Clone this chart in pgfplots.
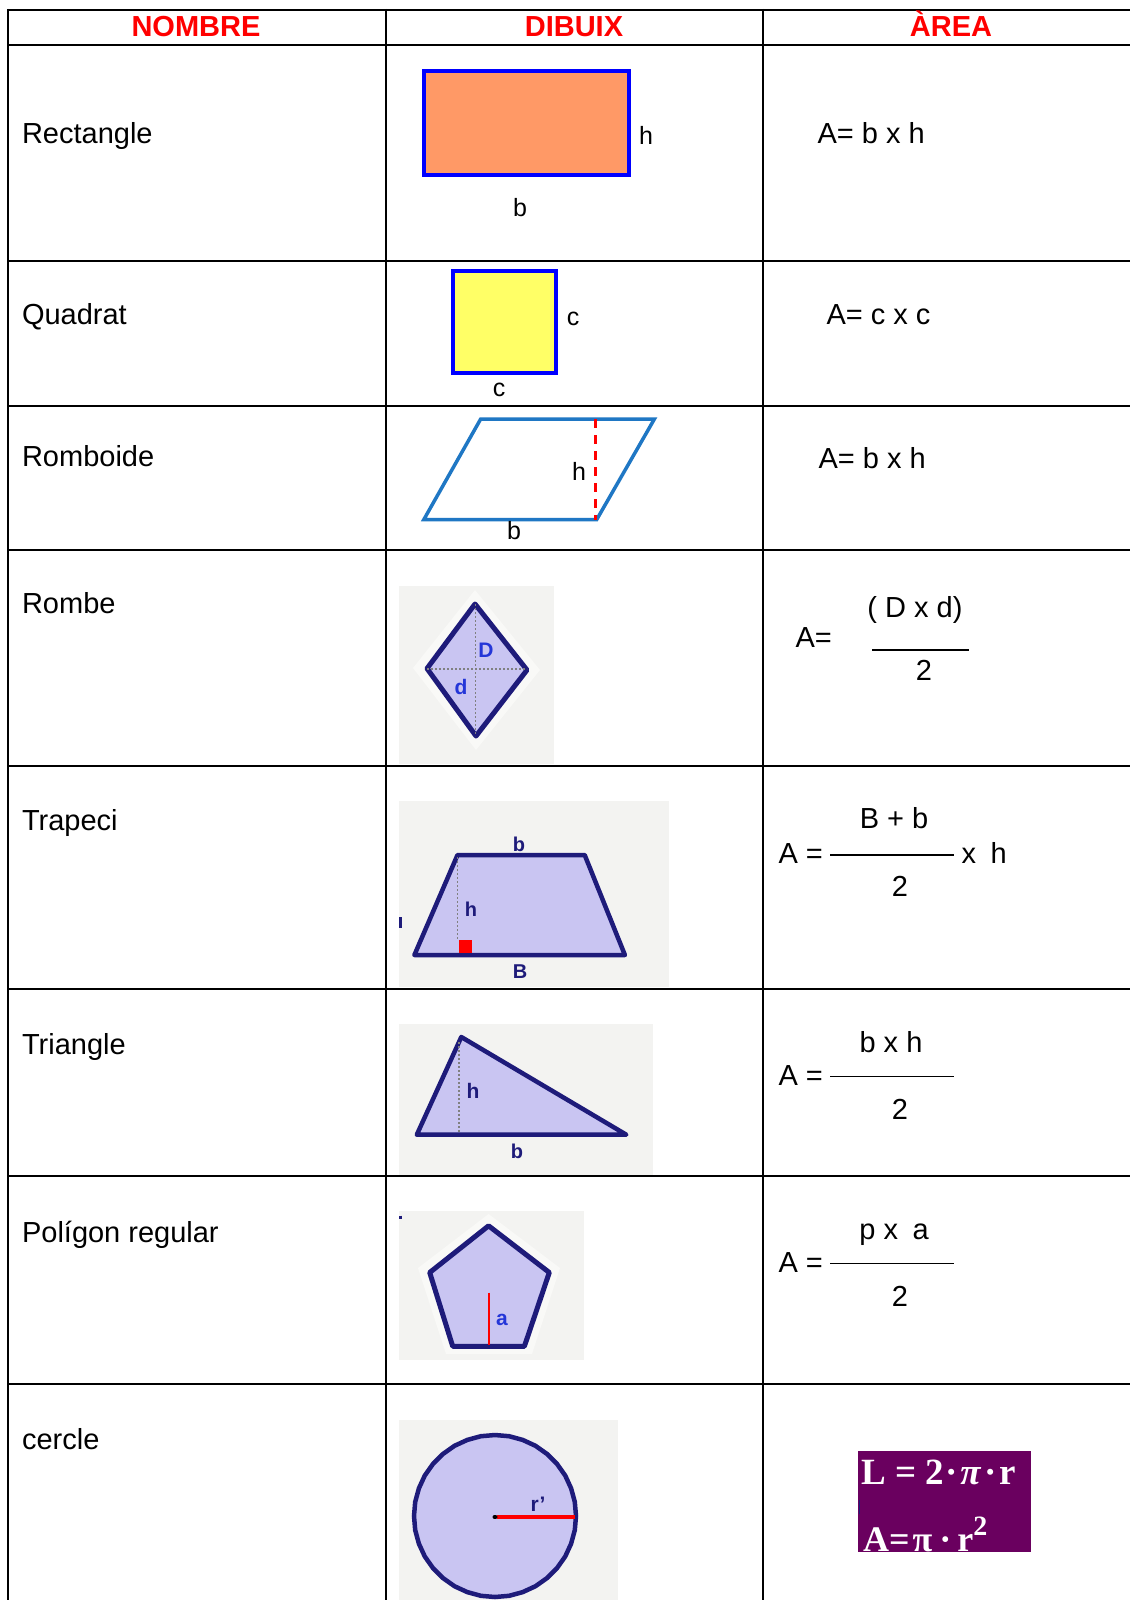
\documentclass[border=0pt]{standalone}
\usepackage{fontspec}
\setmainfont{Liberation Sans}
\newfontfamily\serifb{Liberation Serif}
\usepackage{pgfplots}
\pgfplotsset{compat=1.18}

\definecolor{hdrred}{HTML}{FF0000}
\definecolor{rectfill}{HTML}{FF9966}
\definecolor{sqfill}{HTML}{FFFF66}
\definecolor{rbblue}{HTML}{1F77C4}
\definecolor{lav}{HTML}{C9C5F2}
\definecolor{navy}{HTML}{1E1B7A}
\definecolor{bg}{HTML}{F3F3F1}
\definecolor{halo}{HTML}{F9F9F7}
\definecolor{lblue}{HTML}{2436D8}
\definecolor{purp}{HTML}{6A005F}

\newcommand\txt{\fontsize{29}{34}\selectfont}
\newcommand\lbl{\fontsize{25}{30}\selectfont}
\newcommand\sml{\fontsize{20}{24}\selectfont\bfseries}

\begin{document}
\begin{tikzpicture}
\begin{axis}[
    width=1130pt, height=1600pt, scale only axis,
    xmin=0, xmax=1130, ymin=0, ymax=1600,
    y dir=reverse,
    hide axis, clip=false,
]
% page
\addplot[draw=none, fill=white] coordinates {(0,0) (1130,0) (1130,1600) (0,1600)} -- cycle;

% ---- table grid
\addplot[black, line width=2pt] coordinates {(8,10) (1130,10)};
\addplot[black, line width=2pt] coordinates {(8,45) (1130,45)};
\addplot[black, line width=2pt] coordinates {(8,260.5) (1130,260.5)};
\addplot[black, line width=2pt] coordinates {(8,405.5) (1130,405.5)};
\addplot[black, line width=2pt] coordinates {(8,549.5) (1130,549.5)};
\addplot[black, line width=2pt] coordinates {(8,766) (1130,766)};
\addplot[black, line width=2pt] coordinates {(8,988.5) (1130,988.5)};
\addplot[black, line width=2pt] coordinates {(8,1176) (1130,1176)};
\addplot[black, line width=2pt] coordinates {(8,1384) (1130,1384)};
\addplot[black, line width=2.4pt] coordinates {(8,9) (8,1600)};
\addplot[black, line width=2pt] coordinates {(386,9) (386,1600)};
\addplot[black, line width=2pt] coordinates {(762.5,9) (762.5,1600)};

% ---- header
\node[anchor=base, font=\txt\bfseries, text=hdrred] at (axis cs:196,37) {NOMBRE};
\node[anchor=base, font=\txt\bfseries, text=hdrred] at (axis cs:574,37) {DIBUIX};
\node[anchor=base, font=\txt\bfseries, text=hdrred] at (axis cs:951,37) {ÀREA};

% ---- names
\node[anchor=base west, font=\txt] at (axis cs:18.5,143) {Rectangle};
\node[anchor=base west, font=\txt] at (axis cs:18.5,324) {Quadrat};
\node[anchor=base west, font=\txt] at (axis cs:18.5,466) {Romboide};
\node[anchor=base west, font=\txt] at (axis cs:18.5,613) {Rombe};
\node[anchor=base west, font=\txt] at (axis cs:18.5,830) {Trapeci};
\node[anchor=base west, font=\txt] at (axis cs:18.5,1054) {Triangle};
\node[anchor=base west, font=\txt] at (axis cs:18.5,1242) {Polígon regular};
\node[anchor=base west, font=\txt] at (axis cs:18.5,1449) {cercle};

% ---- rectangle
\addplot[fill=rectfill, draw=blue, line width=4pt] coordinates {(424,71.5) (629,71.5) (629,174.5) (424,174.5)} -- cycle;
\node[anchor=base, font=\lbl] at (axis cs:646,145) {h};
\node[anchor=base, font=\lbl] at (axis cs:520,216) {b};

% ---- square
\addplot[fill=sqfill, draw=blue, line width=4pt] coordinates {(453,270.5) (556,270.5) (556,372.5) (453,372.5)} -- cycle;
\node[anchor=base, font=\lbl] at (axis cs:573,325) {c};
\node[anchor=base, font=\lbl] at (axis cs:499,396) {c};

% ---- romboide
\addplot[draw=rbblue, line width=3.5pt] coordinates {(480.7,419) (654.4,419) (596.7,519.6) (423.8,519.6)} -- cycle;
\addplot[draw=red, line width=3pt, dash pattern=on 9pt off 7pt] coordinates {(595.3,419) (595.3,519.6)};
\node[anchor=base, font=\lbl] at (axis cs:579,480) {h};
\node[anchor=base, font=\lbl] at (axis cs:514,539) {b};

% ---- rombe
\addplot[draw=none, fill=bg] coordinates {(399,586) (554,586) (554,764) (399,764)} -- cycle;
\addplot[draw=none, fill=halo] coordinates {(475,590) (540,670) (476,750) (413,668)} -- cycle;
\addplot[fill=lav, draw=navy, line width=5pt, line join=round] coordinates {(475,604) (527,670) (476,736) (427,668.5)} -- cycle;
\addplot[gray, line width=1.8pt, dash pattern=on 2pt off 2pt] coordinates {(427,669) (527,669)};
\addplot[gray, line width=1.8pt, dash pattern=on 2pt off 2pt] coordinates {(475.5,604) (475.5,736)};
\node[anchor=center, font=\sml\fontsize{21}{24}\selectfont, text=lblue] at (axis cs:486,650) {D};
\node[anchor=center, font=\sml\fontsize{21}{24}\selectfont, text=lblue] at (axis cs:461,687) {d};

% ---- trapeci
\addplot[draw=none, fill=bg] coordinates {(399,801) (669,801) (669,987) (399,987)} -- cycle;
\addplot[fill=lav, draw=navy, line width=4.5pt, line join=round] coordinates {(457.5,855) (584.7,855) (624.9,955) (414.4,955)} -- cycle;
\addplot[gray, line width=1.8pt, dash pattern=on 2pt off 2pt] coordinates {(457.5,857) (457.5,940)};
\addplot[draw=none, fill=red] coordinates {(459,940) (472,940) (472,953) (459,953)} -- cycle;
\addplot[navy, line width=2.5pt] coordinates {(400.5,917) (400.5,928)};
\node[anchor=base, font=\sml, text=navy] at (axis cs:519,851) {b};
\node[anchor=base, font=\sml, text=navy] at (axis cs:471,916) {h};
\node[anchor=base, font=\sml, text=navy] at (axis cs:520,978) {B};

% ---- triangle
\addplot[draw=none, fill=bg] coordinates {(399,1024) (652.6,1024) (652.6,1174.5) (399,1174.5)} -- cycle;
\addplot[fill=lav, draw=navy, line width=4.5pt, line join=round] coordinates {(461.3,1037) (626.3,1134.7) (416.8,1134.7)} -- cycle;
\addplot[gray, line width=1.8pt, dash pattern=on 2pt off 2pt] coordinates {(459,1042) (459,1133)};
\node[anchor=base, font=\sml\fontsize{21}{24}\selectfont, text=navy] at (axis cs:473,1098) {h};
\node[anchor=base, font=\sml, text=navy] at (axis cs:517,1158) {b};

% ---- polygon
\addplot[draw=none, fill=bg] coordinates {(399,1210.5) (583.8,1210.5) (583.8,1359.7) (399,1359.7)} -- cycle;
\addplot[draw=none, fill=halo] coordinates {(488.6,1214) (560,1268) (532,1354) (446,1354) (418,1268)} -- cycle;
\addplot[fill=lav, draw=navy, line width=5pt, line join=round] coordinates {(488.6,1225.8) (549.3,1272.5) (524.4,1346.3) (452.7,1346.3) (429.7,1272.5)} -- cycle;
\addplot[red, line width=2.5pt] coordinates {(489,1292.7) (489,1345)};
\addplot[navy, line width=2.5pt] coordinates {(400.6,1215.5) (400.6,1219)};
\node[anchor=base, font=\sml\fontsize{21}{24}\selectfont, text=lblue] at (axis cs:502,1325) {a};

% ---- circle
\addplot[draw=none, fill=bg] coordinates {(399,1420) (618,1420) (618,1600) (399,1600)} -- cycle;
\addplot[fill=lav, draw=navy, line width=4.5pt] coordinates {
  (576,1516) (574.8,1530.1) (571.1,1543.7) (565.2,1556.5) (557.0,1568.1) (547.1,1578.0)
  (535.5,1586.2) (522.7,1592.1) (509.1,1595.8) (495,1597) (480.9,1595.8) (467.3,1592.1)
  (454.5,1586.2) (442.9,1578.0) (433.0,1568.1) (424.8,1556.5) (418.9,1543.7) (415.2,1530.1)
  (414,1516) (415.2,1501.9) (418.9,1488.3) (424.8,1475.5) (433.0,1463.9) (442.9,1454.0)
  (454.5,1445.8) (467.3,1439.9) (480.9,1436.2) (495,1435) (509.1,1436.2) (522.7,1439.9)
  (535.5,1445.8) (547.1,1454.0) (557.0,1463.9) (565.2,1475.5) (571.1,1488.3) (574.8,1501.9)
} -- cycle;
\addplot[red, line width=4pt] coordinates {(497,1517) (575,1517)};
\addplot[black, line width=4pt, line cap=round] coordinates {(494.5,1517) (495.5,1517)};
\node[anchor=base, font=\sml\fontsize{21}{24}\selectfont, text=navy] at (axis cs:538,1511) {r'};

% ---- formulas
\node[anchor=base west, font=\txt] at (axis cs:814,143) {A= b x h};
\node[anchor=base west, font=\txt] at (axis cs:823,324) {A= c x c};
\node[anchor=base west, font=\txt] at (axis cs:815,468) {A= b x h};

\node[anchor=base, font=\txt] at (axis cs:915,617) {( D x d)};
\node[anchor=base west, font=\txt] at (axis cs:792,647) {A=};
\addplot[black, line width=1.2pt] coordinates {(872,650) (969,650)};
\node[anchor=base, font=\txt] at (axis cs:924,680) {2};

\node[anchor=base, font=\txt] at (axis cs:894,828) {B + b};
\node[anchor=base west, font=\txt] at (axis cs:775,863) {A =};
\addplot[black, line width=1.6pt] coordinates {(830,855) (954,855)};
\node[anchor=base west, font=\txt] at (axis cs:958,863) {x\enspace h};
\node[anchor=base, font=\txt] at (axis cs:900,896) {2};

\node[anchor=base, font=\txt] at (axis cs:891,1052) {b x h};
\node[anchor=base west, font=\txt] at (axis cs:775,1085) {A =};
\addplot[black, line width=1.6pt] coordinates {(830,1076.5) (954,1076.5)};
\node[anchor=base, font=\txt] at (axis cs:900,1119) {2};

\node[anchor=base, font=\txt] at (axis cs:894,1239) {p x\enspace a};
\node[anchor=base west, font=\txt] at (axis cs:775,1272) {A =};
\addplot[black, line width=1.6pt] coordinates {(830,1263.5) (954,1263.5)};
\node[anchor=base, font=\txt] at (axis cs:900,1306) {2};

% ---- circle formulas
\addplot[draw=none, fill=purp] coordinates {(858,1451) (1031,1451) (1031,1552) (858,1552)} -- cycle;
\addplot[navy, line width=1.5pt] coordinates {(859.5,1500) (859.5,1514)};
\node[anchor=base west, inner sep=0pt, text=white, font=\serifb\bfseries\fontsize{37}{40}\selectfont]
  at (axis cs:861,1484) {L = 2\kern2pt·\kern2pt\textit{π}\kern3pt·\kern3pt r};
\node[anchor=base west, inner sep=0pt, text=white, font=\serifb\bfseries\fontsize{36}{40}\selectfont]
  at (axis cs:863,1551) {A=\kern3pt π\kern7pt·\kern6pt r\raisebox{16pt}{\fontsize{28}{30}\selectfont 2}};
\end{axis}
\pgfresetboundingbox
\path (current axis.south west) rectangle (current axis.north east);
\end{tikzpicture}
\end{document}
